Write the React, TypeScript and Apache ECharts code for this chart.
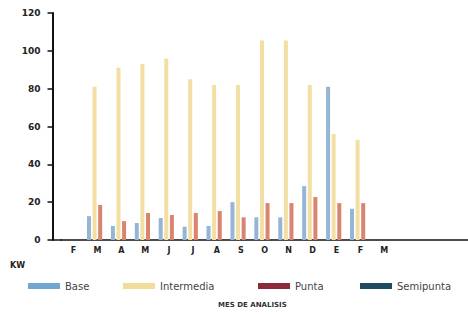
import React, { useEffect, useRef } from "react";
import * as echarts from "echarts";

const categories = ["F", "M", "A", "M", "J", "J", "A", "S", "O", "N", "D", "E", "F", "M", "", "", ""];
const seriesNames = ["Base", "Intermedia", "Punta", "Semipunta"];
const baseValues = [0, 12.6, 7.4, 9, 11.6, 7, 7.4, 20, 12, 12, 28.5, 81, 16.5, 0, 0, 0, 0];
const intermediaValues = [0, 81, 91, 93, 96, 85, 82, 82, 105.5, 105.5, 82, 56, 53, 0, 0, 0, 0];
const puntaValues = [0, 18.5, 10, 14.3, 13.2, 14.3, 15.3, 12, 19.5, 19.5, 22.7, 19.5, 19.5, 0, 0, 0, 0];
const semipuntaValues = [0, 0, 0, 0, 0, 0, 0, 0, 0, 0, 0, 0, 0, 0, 0, 0, 0];
const yMin = 0;
const yMax = 120;
const yInterval = 20;
const unitLabel = "KW";
const xTitle = "MES DE ANALISIS";

const barColors = ["#94b6d4", "#f3dfa3", "#d8846f", "#1e4b5e"];
const legendColors = ["#6fa6d2", "#f1dc9a", "#8a2a3c", "#1e4b5e"];
const legendLeft = [28, 123, 258, 360];

export default function App() {
  const ref = useRef<HTMLDivElement>(null);
  useEffect(() => {
    if (!ref.current) return;
    const chart = echarts.init(ref.current, undefined, { renderer: "svg" });
    const values = [baseValues, intermediaValues, puntaValues, semipuntaValues];
    chart.setOption({
      animation: false,
      backgroundColor: "#ffffff",
      textStyle: { fontFamily: "DejaVu Sans" },
      grid: { left: 61.5, right: -16.8, top: 13, bottom: 74, containLabel: false },
      xAxis: {
        type: "category",
        data: categories,
        axisLine: { lineStyle: { color: "#111", width: 1.5 } },
        axisTick: { alignWithLabel: true, length: 4, lineStyle: { color: "#111", width: 2.5 } },
        axisLabel: { color: "#222", fontSize: 8, fontWeight: "bold", margin: 6 },
      },
      yAxis: {
        type: "value",
        min: yMin,
        max: yMax,
        interval: yInterval,
        offset: 9,
        splitLine: { show: false },
        axisLine: { show: true, lineStyle: { color: "#111", width: 2 } },
        axisTick: { show: true, length: 5, lineStyle: { color: "#111", width: 1.5 } },
        axisLabel: { color: "#222", fontSize: 9, fontWeight: "bold", margin: 12 },
      },
      legend: seriesNames.map((n, i) => ({
        data: [{ name: n, itemStyle: { color: legendColors[i] } }],
        left: legendLeft[i],
        top: 281,
        icon: "rect",
        itemWidth: 32,
        itemHeight: 6,
        padding: 0,
        textStyle: { color: "#444", fontSize: 10, fontFamily: "DejaVu Sans" },
      })),
      graphic: [
        { type: "line", shape: { x1: 52.5, y1: 240, x2: 62, y2: 240 }, style: { stroke: "#111", lineWidth: 1.5 } },
        { type: "text", left: 10, top: 261, style: { text: unitLabel, fontSize: 8, fontWeight: "bold", fill: "#222", fontFamily: "DejaVu Sans" } },
        { type: "text", left: 218, top: 301, style: { text: xTitle, fontSize: 7, fontWeight: "bold", fill: "#333", fontFamily: "DejaVu Sans" } },
      ],
      series: seriesNames.map((n, i) => ({
        name: n,
        type: "bar",
        data: values[i],
        barWidth: 4,
        barGap: "40%",
        itemStyle: { color: barColors[i] },
      })),
    });
    return () => chart.dispose();
  }, []);
  return <div ref={ref} style={{ position: "fixed", left: 0, top: 0, width: 468, height: 314 }} />;
}
